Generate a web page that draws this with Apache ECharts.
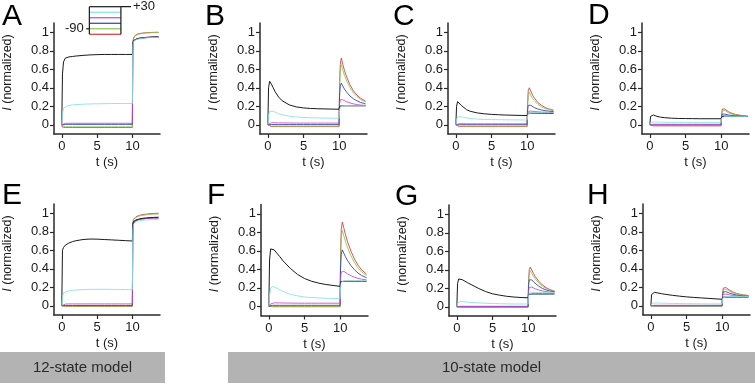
<!DOCTYPE html>
<html><head><meta charset="utf-8">
<script src="https://cdn.jsdelivr.net/npm/echarts@6/dist/echarts.min.js"></script>
<style>html,body{margin:0;padding:0;background:#fff}#c{width:755px;height:385px}</style>
</head><body><div id="c"></div>
<script>
// time points (s)
const T = [0,0.1,0.25,0.5,0.75,1,1.5,2,3,4,5,6,7,8,9,9.99,10.05,10.15,10.3,10.5,10.75,11,11.5,12,12.5,13,13.7];
// protocol test voltages (mV), order: black, cyan, magenta, blue, green, red
const V_TEST = [30,0,-30,-60,-90,-120];
const V_HOLD = -90, V_FINAL = 30;
const X_TICKS = [0,5,10];
const Y_TICKS = [0,0.2,0.4,0.6,0.8,1];
const PANEL_LABELS = ['A','B','C','D','E','F','G','H'];
const MODEL_LABELS = ['12-state model','10-state model'];

// Panel A (12-state)
const A_black  =[0,0.55,0.68,0.72,0.728,0.733,0.738,0.743,0.75,0.755,0.758,0.76,0.76,0.76,0.76,0.76, 0.88,0.91,0.92,0.925,0.93,0.935,0.94,0.944,0.947,0.949,0.95];
const A_cyan   =[0,0.12,0.18,0.2,0.205,0.21,0.215,0.218,0.222,0.225,0.227,0.228,0.229,0.23,0.23,0.23, 0.85,0.9,0.915,0.92,0.925,0.93,0.935,0.94,0.942,0.944,0.945];
const A_magenta=[0,0.01,0.013,0.015,0.016,0.016,0.016,0.016,0.016,0.016,0.016,0.016,0.016,0.016,0.016,0.016, 0.86,0.9,0.92,0.928,0.933,0.937,0.942,0.945,0.947,0.949,0.95];
const A_blue   =[0,0.002,0.003,0.004,0.004,0.004,0.004,0.004,0.004,0.004,0.004,0.004,0.004,0.004,0.004,0.004, 0.86,0.9,0.915,0.923,0.929,0.934,0.939,0.942,0.944,0.946,0.947];
const A_green  =[0,-0.018,-0.02,-0.021,-0.022,-0.022,-0.022,-0.022,-0.022,-0.022,-0.022,-0.022,-0.022,-0.022,-0.022,-0.022, 0.88,0.93,0.955,0.968,0.977,0.983,0.989,0.992,0.994,0.996,0.997];
const A_red    =[0,-0.025,-0.028,-0.03,-0.03,-0.03,-0.03,-0.03,-0.03,-0.03,-0.03,-0.03,-0.03,-0.03,-0.03,-0.03, 0.88,0.935,0.96,0.973,0.982,0.987,0.992,0.995,0.997,0.999,1.0];
// Panel B
const B_black  =[0,0.4,0.47,0.44,0.4,0.36,0.3,0.26,0.215,0.193,0.182,0.176,0.173,0.171,0.169,0.168, 0.2,0.205,0.205,0.205,0.205,0.205,0.205,0.205,0.205,0.205,0.205];
const B_cyan   =[0,0.1,0.145,0.152,0.145,0.135,0.12,0.108,0.092,0.084,0.079,0.076,0.074,0.072,0.071,0.07, 0.15,0.19,0.2,0.205,0.207,0.208,0.209,0.21,0.21,0.21,0.21];
const B_magenta=[0,0.01,0.018,0.022,0.022,0.021,0.02,0.02,0.019,0.018,0.018,0.018,0.018,0.018,0.018,0.018, 0.22,0.27,0.28,0.27,0.259,0.25,0.236,0.226,0.218,0.213,0.208];
const B_blue   =[0,0.001,0.002,0.002,0.002,0.002,0.002,0.002,0.002,0.002,0.002,0.002,0.002,0.002,0.002,0.002, 0.3,0.42,0.45,0.419,0.385,0.357,0.312,0.28,0.258,0.241,0.226];
const B_green  =[0,-0.013,-0.015,-0.015,-0.015,-0.015,-0.015,-0.015,-0.015,-0.015,-0.015,-0.015,-0.015,-0.015,-0.015,-0.015, 0.4,0.6,0.65,0.594,0.533,0.482,0.402,0.345,0.304,0.274,0.247];
const B_red    =[0,-0.018,-0.02,-0.02,-0.02,-0.02,-0.02,-0.02,-0.02,-0.02,-0.02,-0.02,-0.02,-0.02,-0.02,-0.02, 0.42,0.65,0.72,0.655,0.585,0.526,0.433,0.367,0.32,0.286,0.254];
// Panel C
const C_black  =[0,0.2,0.25,0.235,0.21,0.19,0.163,0.146,0.128,0.118,0.112,0.108,0.105,0.103,0.101,0.1, 0.12,0.125,0.125,0.125,0.125,0.125,0.125,0.124,0.124,0.123,0.123];
const C_cyan   =[0,0.06,0.085,0.09,0.086,0.081,0.073,0.068,0.061,0.058,0.056,0.055,0.054,0.053,0.052,0.052, 0.09,0.12,0.125,0.128,0.13,0.13,0.13,0.13,0.13,0.13,0.13];
const C_magenta=[0,0.005,0.009,0.011,0.011,0.011,0.011,0.01,0.01,0.01,0.01,0.01,0.01,0.01,0.01,0.01, 0.12,0.145,0.15,0.148,0.145,0.143,0.14,0.137,0.135,0.134,0.132];
const C_blue   =[0,0.001,0.001,0.001,0.001,0.001,0.001,0.001,0.001,0.001,0.001,0.001,0.001,0.001,0.001,0.001, 0.15,0.21,0.22,0.21,0.195,0.185,0.17,0.16,0.152,0.147,0.142];
const C_green  =[0,-0.013,-0.015,-0.015,-0.015,-0.015,-0.015,-0.015,-0.015,-0.015,-0.015,-0.015,-0.015,-0.015,-0.015,-0.015, 0.2,0.32,0.35,0.32,0.285,0.26,0.22,0.195,0.176,0.164,0.153];
const C_red    =[0,-0.018,-0.02,-0.02,-0.02,-0.02,-0.02,-0.02,-0.02,-0.02,-0.02,-0.02,-0.02,-0.02,-0.02,-0.02, 0.22,0.37,0.4,0.365,0.32,0.29,0.24,0.21,0.187,0.172,0.158];
// Panel D
const D_black  =[0,0.09,0.11,0.106,0.097,0.09,0.082,0.077,0.071,0.068,0.067,0.066,0.065,0.065,0.065,0.065, 0.085,0.09,0.09,0.09,0.09,0.09,0.09,0.09,0.09,0.089,0.089];
const D_cyan   =[0,0.022,0.028,0.03,0.03,0.029,0.028,0.027,0.026,0.026,0.025,0.025,0.025,0.025,0.025,0.025, 0.07,0.085,0.09,0.09,0.09,0.09,0.09,0.09,0.09,0.09,0.09];
const D_magenta=[0,0.003,0.005,0.005,0.005,0.005,0.005,0.005,0.005,0.005,0.005,0.005,0.005,0.005,0.005,0.005, 0.09,0.1,0.1,0.098,0.096,0.095,0.093,0.092,0.091,0.09,0.09];
const D_blue   =[0,0,0,0,0,0,0,0,0,0,0,0,0,0,0,0, 0.09,0.115,0.12,0.115,0.11,0.106,0.1,0.097,0.094,0.092,0.09];
const D_green  =[0,-0.007,-0.008,-0.008,-0.008,-0.008,-0.008,-0.008,-0.008,-0.008,-0.008,-0.008,-0.008,-0.008,-0.008,-0.008, 0.1,0.15,0.165,0.155,0.14,0.13,0.115,0.106,0.1,0.096,0.092];
const D_red    =[0,-0.01,-0.012,-0.012,-0.012,-0.012,-0.012,-0.012,-0.012,-0.012,-0.012,-0.012,-0.012,-0.012,-0.012,-0.012, 0.1,0.17,0.185,0.17,0.155,0.142,0.124,0.112,0.104,0.099,0.094];
// Panel E (12-state)
const E_black  =[0,0.6,0.63,0.655,0.668,0.678,0.693,0.703,0.716,0.721,0.72,0.716,0.712,0.708,0.704,0.7, 0.88,0.91,0.92,0.928,0.934,0.939,0.946,0.95,0.953,0.955,0.957];
const E_cyan   =[0,0.1,0.14,0.152,0.157,0.161,0.166,0.17,0.175,0.177,0.178,0.178,0.177,0.176,0.175,0.174, 0.82,0.88,0.9,0.91,0.915,0.92,0.925,0.928,0.93,0.932,0.933];
const E_magenta=[0,0.01,0.015,0.018,0.02,0.02,0.02,0.02,0.02,0.02,0.02,0.02,0.02,0.02,0.02,0.02, 0.85,0.9,0.915,0.925,0.93,0.935,0.94,0.943,0.945,0.947,0.948];
const E_blue   =[0,0.002,0.003,0.003,0.003,0.003,0.003,0.003,0.003,0.003,0.003,0.003,0.003,0.003,0.003,0.003, 0.84,0.89,0.91,0.92,0.928,0.933,0.94,0.944,0.947,0.949,0.95];
const E_green  =[0,-0.003,-0.004,-0.004,-0.004,-0.004,-0.004,-0.004,-0.004,-0.004,-0.004,-0.004,-0.004,-0.004,-0.004,-0.004, 0.88,0.93,0.945,0.955,0.965,0.97,0.978,0.983,0.987,0.99,0.991];
const E_red    =[0,-0.005,-0.006,-0.006,-0.006,-0.006,-0.006,-0.006,-0.006,-0.006,-0.006,-0.006,-0.006,-0.006,-0.006,-0.006, 0.89,0.935,0.95,0.962,0.972,0.978,0.986,0.991,0.995,0.998,1.0];
// Panel F
const F_black  =[0,0.5,0.62,0.63,0.61,0.585,0.54,0.49,0.41,0.345,0.3,0.27,0.25,0.235,0.225,0.215, 0.265,0.27,0.27,0.27,0.27,0.27,0.27,0.27,0.27,0.27,0.27];
const F_cyan   =[0,0.12,0.19,0.215,0.21,0.2,0.18,0.16,0.13,0.113,0.1,0.094,0.09,0.087,0.084,0.082, 0.2,0.26,0.27,0.273,0.275,0.275,0.275,0.275,0.275,0.275,0.275];
const F_magenta=[0,0.01,0.025,0.035,0.037,0.037,0.036,0.035,0.034,0.033,0.033,0.033,0.033,0.033,0.033,0.033, 0.3,0.37,0.39,0.378,0.364,0.352,0.33,0.314,0.302,0.293,0.285];
const F_blue   =[0,0.008,0.01,0.01,0.01,0.01,0.01,0.01,0.01,0.01,0.01,0.01,0.01,0.01,0.01,0.01, 0.4,0.56,0.61,0.575,0.534,0.498,0.44,0.395,0.359,0.333,0.308];
const F_green  =[0,0,0,0,0,0,0,0,0,0,0,0,0,0,0,0, 0.5,0.75,0.82,0.763,0.697,0.639,0.546,0.472,0.415,0.372,0.332];
const F_red    =[0,-0.004,-0.005,-0.005,-0.005,-0.005,-0.005,-0.005,-0.005,-0.005,-0.005,-0.005,-0.005,-0.005,-0.005,-0.005, 0.55,0.83,0.91,0.849,0.772,0.704,0.597,0.51,0.444,0.394,0.347];
// Panel G
const G_black  =[0,0.25,0.3,0.305,0.293,0.28,0.26,0.24,0.2,0.165,0.14,0.125,0.113,0.105,0.1,0.097, 0.135,0.138,0.138,0.138,0.138,0.138,0.138,0.138,0.138,0.138,0.138];
const G_cyan   =[0,0.04,0.055,0.058,0.056,0.054,0.05,0.047,0.042,0.038,0.035,0.033,0.031,0.03,0.03,0.03, 0.12,0.145,0.15,0.152,0.153,0.154,0.155,0.155,0.155,0.155,0.155];
const G_magenta=[0,0.003,0.005,0.005,0.005,0.005,0.005,0.005,0.005,0.005,0.005,0.005,0.005,0.005,0.005,0.005, 0.17,0.21,0.22,0.212,0.202,0.194,0.181,0.171,0.164,0.159,0.155];
const G_blue   =[0,0,0,0,0,0,0,0,0,0,0,0,0,0,0,0, 0.22,0.29,0.31,0.291,0.269,0.25,0.221,0.198,0.182,0.171,0.16];
const G_green  =[0,-0.002,-0.002,-0.002,-0.002,-0.002,-0.002,-0.002,-0.002,-0.002,-0.002,-0.002,-0.002,-0.002,-0.002,-0.002, 0.25,0.36,0.39,0.362,0.329,0.3,0.256,0.222,0.198,0.181,0.165];
const G_red    =[0,-0.003,-0.003,-0.003,-0.003,-0.003,-0.003,-0.003,-0.003,-0.003,-0.003,-0.003,-0.003,-0.003,-0.003,-0.003, 0.27,0.4,0.43,0.397,0.359,0.325,0.274,0.235,0.207,0.187,0.169];
// Panel H
const H_black  =[0,0.12,0.14,0.145,0.142,0.138,0.13,0.124,0.113,0.104,0.096,0.09,0.085,0.08,0.075,0.07, 0.09,0.094,0.094,0.094,0.094,0.094,0.094,0.094,0.094,0.094,0.094];
const H_cyan   =[0,0.02,0.028,0.03,0.03,0.029,0.028,0.027,0.025,0.024,0.023,0.022,0.021,0.02,0.02,0.02, 0.08,0.095,0.1,0.1,0.1,0.1,0.1,0.1,0.1,0.1,0.1];
const H_magenta=[0,0.003,0.005,0.005,0.005,0.005,0.005,0.005,0.005,0.005,0.005,0.005,0.005,0.005,0.005,0.005, 0.1,0.125,0.13,0.126,0.122,0.118,0.112,0.108,0.105,0.103,0.101];
const H_blue   =[0,0,0,0,0,0,0,0,0,0,0,0,0,0,0,0, 0.11,0.15,0.16,0.153,0.144,0.137,0.125,0.116,0.11,0.106,0.102];
const H_green  =[0,-0.002,-0.002,-0.002,-0.002,-0.002,-0.002,-0.002,-0.002,-0.002,-0.002,-0.002,-0.002,-0.002,-0.002,-0.002, 0.12,0.175,0.19,0.18,0.167,0.157,0.14,0.128,0.12,0.114,0.109];
const H_red    =[0,-0.003,-0.003,-0.003,-0.003,-0.003,-0.003,-0.003,-0.003,-0.003,-0.003,-0.003,-0.003,-0.003,-0.003,-0.003, 0.13,0.19,0.21,0.198,0.183,0.17,0.149,0.134,0.124,0.117,0.111];

const PANEL_DATA = [
  [A_black,A_cyan,A_magenta,A_blue,A_green,A_red],
  [B_black,B_cyan,B_magenta,B_blue,B_green,B_red],
  [C_black,C_cyan,C_magenta,C_blue,C_green,C_red],
  [D_black,D_cyan,D_magenta,D_blue,D_green,D_red],
  [E_black,E_cyan,E_magenta,E_blue,E_green,E_red],
  [F_black,F_cyan,F_magenta,F_blue,F_green,F_red],
  [G_black,G_cyan,G_magenta,G_blue,G_green,G_red],
  [H_black,H_cyan,H_magenta,H_blue,H_green,H_red]
];

// ---- styling / layout ----
const COLORS = ['#1a1a1a','#86e2e2','#c846c8','#2a40a8','#88c450','#d03a3a'];
const ZORDER = [8,9,6,5,4,3];
const FONT = 'Liberation Sans, Arial, Helvetica, sans-serif';
const AX = '#2a2a2a';
const GRIDS = [
  {left:53, top:23}, {left:260, top:23}, {left:448, top:23}, {left:642, top:23},
  {left:53, top:204}, {left:261, top:204.5}, {left:449, top:205}, {left:643, top:204}
];
const GW = 107, GH = 111;
const LETTER_POS = [[2,17],[205,17],[393,17],[588,16],[2,196],[207,196],[395,197],[587,196]];

const grid = [], xAxis = [], yAxis = [], series = [];
GRIDS.forEach((g, i) => {
  grid.push({left:g.left, top:g.top, width:GW, height:GH, containLabel:false});
  xAxis.push({
    type:'value', gridIndex:i, min:-1.1, max:13.9,
    axisLine:{show:true, onZero:false, lineStyle:{color:AX, width:1.5}},
    axisTick:{show:true, customValues:X_TICKS, length:4, lineStyle:{color:AX, width:1.2}},
    axisLabel:{show:true, customValues:X_TICKS, margin:6, fontSize:13, color:'#1a1a1a', fontFamily:FONT},
    splitLine:{show:false},
    name:'t (s)', nameLocation:'middle', nameGap:22,
    nameTextStyle:{fontSize:13, color:'#1a1a1a', fontFamily:FONT}
  });
  yAxis.push({
    type:'value', gridIndex:i, min:-0.1, max:1.1,
    axisLine:{show:true, onZero:false, lineStyle:{color:AX, width:1.5}},
    axisTick:{show:true, customValues:Y_TICKS, length:4, lineStyle:{color:AX, width:1.2}},
    axisLabel:{show:true, customValues:Y_TICKS, margin:5, fontSize:13, color:'#1a1a1a', fontFamily:FONT},
    splitLine:{show:false},
    name:'{i|I} (normalized)', nameLocation:'middle', nameGap:40,
    nameTextStyle:{fontSize:12.5, color:'#1a1a1a', fontFamily:FONT, padding:[0,0,0,12],
      rich:{i:{fontStyle:'italic', fontSize:12.5, fontFamily:FONT, color:'#1a1a1a'}}}
  });
  PANEL_DATA[i].forEach((vals, k) => {
    series.push({
      type:'line', xAxisIndex:i, yAxisIndex:i, symbol:'none', silent:true,
      data: T.map((t, j) => [t, vals[j]]),
      lineStyle:{width:1, color:COLORS[k], opacity: k === 0 ? 1 : 0.85}, z: ZORDER[k]
    });
  });
});

// protocol inset (index 8)
grid.push({left:86.2, top:6.7, width:44.8, height:27.6});
xAxis.push({type:'value', gridIndex:8, min:-0.1, max:1.32, show:false});
yAxis.push({type:'value', gridIndex:8, min:-120, max:30, position:'left',
  axisLine:{show:false}, axisTick:{show:false}, splitLine:{show:false},
  axisLabel:{show:true, customValues:[V_HOLD], margin:2.5, fontSize:13, color:'#1a1a1a', fontFamily:FONT, formatter: v => String(v)}});
yAxis.push({type:'value', gridIndex:8, min:-120, max:30, position:'right',
  axisLine:{show:false}, axisTick:{show:false}, splitLine:{show:false},
  axisLabel:{show:true, customValues:[V_FINAL], margin:2, fontSize:13, color:'#1a1a1a', fontFamily:FONT, formatter: v => '+' + v}});
V_TEST.forEach((v, k) => {
  series.push({type:'line', xAxisIndex:8, yAxisIndex:9, symbol:'none', silent:true,
    data:[[0, v],[1, v]], lineStyle:{width:1.2, color:COLORS[k]}, z:3});
});
const vmax = Math.max(...V_TEST), vmin = Math.min(...V_TEST);
series.push({type:'line', xAxisIndex:8, yAxisIndex:9, symbol:'none', silent:true,
  data:[[0, vmax],[0, vmin]], lineStyle:{width:1.2, color:'#1a1a1a'}, z:4});
series.push({type:'line', xAxisIndex:8, yAxisIndex:9, symbol:'none', silent:true,
  data:[[1, vmin],[1, V_FINAL],[1.32, V_FINAL]], lineStyle:{width:1.2, color:'#1a1a1a'}, z:4});
series.push({type:'line', xAxisIndex:8, yAxisIndex:9, symbol:'none', silent:true,
  data:[[-0.1, V_HOLD],[0, V_HOLD]], lineStyle:{width:1.2, color:'#1a1a1a'}, z:4});

// decorations: panel letters and model boxes
const graphic = [];
PANEL_LABELS.forEach((L, i) => {
  graphic.push({type:'text', left:LETTER_POS[i][0], top:LETTER_POS[i][1] - 15,
    style:{text:L, font:'30px ' + FONT, fill:'#000'}});
});
graphic.push({type:'rect', shape:{x:0, y:352, width:165, height:31}, style:{fill:'#b3b3b3'}});
graphic.push({type:'rect', shape:{x:228, y:352, width:527, height:31}, style:{fill:'#b3b3b3'}});
graphic.push({type:'text', x:82.5, y:367.5, style:{text:MODEL_LABELS[0], font:'15px ' + FONT, fill:'#2a2a2a', textAlign:'center', textVerticalAlign:'middle'}});
graphic.push({type:'text', x:491.5, y:367.5, style:{text:MODEL_LABELS[1], font:'15px ' + FONT, fill:'#2a2a2a', textAlign:'center', textVerticalAlign:'middle'}});

const chart = echarts.init(document.getElementById('c'), null, {renderer:'canvas'});
chart.setOption({backgroundColor:'#fff', animation:false, grid, xAxis, yAxis, series, graphic});
</script></body></html>
